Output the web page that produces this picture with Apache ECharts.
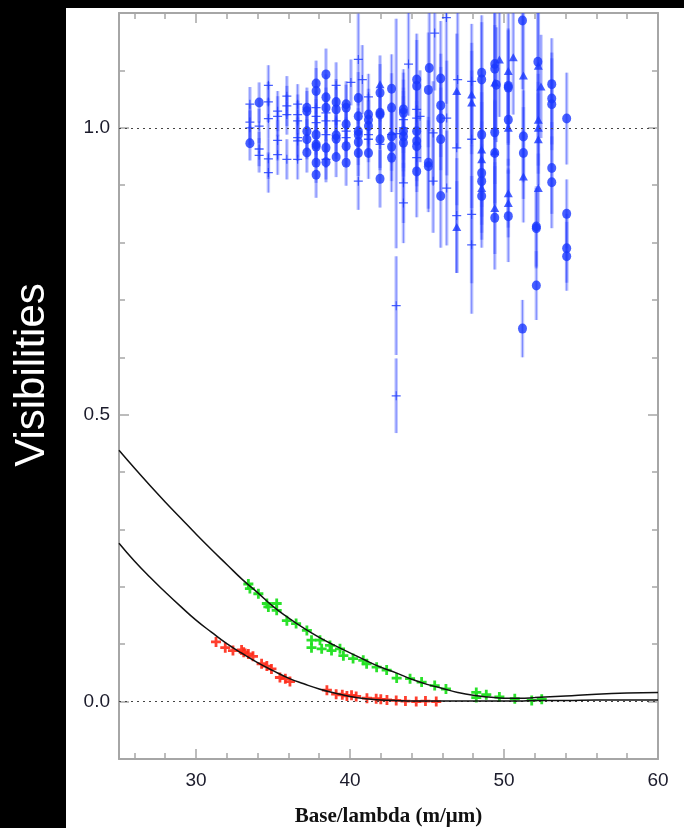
<!DOCTYPE html>
<html>
<head>
<meta charset="utf-8">
<script src="https://cdn.jsdelivr.net/npm/echarts@6/dist/echarts.min.js"></script>
<style>
  html, body { margin: 0; padding: 0; background: #000; }
  #chart { width: 684px; height: 828px; }
</style>
</head>
<body>
<div id="chart"></div>
<script>
// Axis ticks and labels
const xTickMinor = [26, 28, 30, 32, 34, 36, 38, 40, 42, 44, 46, 48, 50, 52, 54, 56, 58, 60];
const xTickMajor = [30, 40, 50, 60];
const yTickMajor = [0, 0.5, 1.0];

// Model visibility curves (sampled)
const curveX = [25, 26, 27, 28, 29, 30, 31, 32, 33, 34, 35, 36, 37, 38, 39, 40, 41, 42, 43, 44, 45, 46, 47, 48, 49, 50, 51, 52, 54, 56, 58, 60];
const upperV = [0.438, 0.407, 0.377, 0.348, 0.320, 0.292, 0.265, 0.239, 0.213, 0.190, 0.166, 0.146, 0.128, 0.112, 0.098, 0.085, 0.072, 0.060, 0.050, 0.039, 0.030, 0.023, 0.016, 0.011, 0.008, 0.006, 0.006, 0.007, 0.010, 0.013, 0.015, 0.016];
const lowerV = [0.276, 0.245, 0.217, 0.191, 0.166, 0.142, 0.121, 0.101, 0.084, 0.068, 0.054, 0.041, 0.031, 0.022, 0.015, 0.009, 0.005, 0.003, 0.002, 0.001, 0.001, 0.001, 0.001, 0.001, 0.001, 0.001, 0.001, 0.002, 0.002, 0.003, 0.003, 0.003];

// Red measurements
const redX = [31.3, 31.9, 32.4, 32.96, 33.1, 33.4, 33.7, 34.26, 34.6, 34.9, 35.45, 35.8, 36.1, 38.5, 39.1, 39.5, 39.8, 40.1, 40.4, 41.1, 41.7, 42.0, 42.4, 43.0, 43.6, 44.3, 44.9, 45.6];
const redV = [0.104, 0.094, 0.089, 0.090, 0.086, 0.083, 0.079, 0.066, 0.062, 0.057, 0.042, 0.040, 0.035, 0.020, 0.013, 0.012, 0.010, 0.011, 0.009, 0.006, 0.005, 0.004, 0.003, 0.002, 0.001, 0.000, 0.001, 0.000];

// Green measurements
const greenX = [33.4, 33.5, 34.05, 34.6, 34.7, 35.24, 35.24, 35.9, 36.5, 37.2, 37.5, 37.5, 38.05, 38.16, 38.7, 38.8, 39.35, 39.57, 40.2, 40.86, 41.08, 41.73, 42.38, 43.03, 43.9, 44.65, 45.5, 46.23, 48.2, 48.2, 48.85, 49.7, 50.7, 51.8, 52.45];
const greenV = [0.205, 0.197, 0.188, 0.171, 0.165, 0.171, 0.159, 0.141, 0.136, 0.124, 0.107, 0.094, 0.107, 0.092, 0.098, 0.089, 0.092, 0.080, 0.075, 0.072, 0.066, 0.060, 0.055, 0.041, 0.040, 0.034, 0.028, 0.022, 0.016, 0.007, 0.012, 0.008, 0.005, 0.002, 0.004];

// Blue measurements: plus markers
const plusX = [33.5, 33.5, 33.5, 34.1, 34.1, 34.1, 34.7, 34.7, 34.7, 34.7, 34.7, 35.3, 35.3, 35.3, 35.3, 35.9, 35.9, 35.9, 35.9, 36.6, 36.6, 36.6, 36.6, 36.6, 36.6, 37.8, 37.8, 37.8, 38.44, 38.44, 38.44, 38.44, 39.1, 39.1, 39.75, 39.75, 40.06, 40.54, 40.54, 40.8, 41.2, 41.2, 41.2, 41.95, 42.7, 43.0, 43.0, 43.0, 43.47, 43.47, 43.47, 43.47, 43.8, 44.33, 44.33, 44.33, 44.55, 45.4, 45.4, 45.5, 46.26, 46.28, 46.28, 46.93, 46.93, 46.99, 47.9, 47.9, 47.9, 47.9];
const plusV = [1.041, 1.010, 1.000, 1.003, 0.963, 0.952, 1.074, 1.045, 1.016, 0.946, 0.922, 1.029, 1.020, 0.978, 0.953, 1.055, 1.038, 1.023, 0.945, 1.041, 1.023, 1.012, 0.983, 0.977, 0.945, 1.035, 1.020, 1.009, 1.026, 1.012, 0.988, 0.945, 1.074, 1.012, 0.994, 0.983, 1.079, 0.907, 1.119, 1.084, 1.054, 0.988, 0.980, 0.971, 0.988, 0.990, 0.690, 0.533, 1.014, 1.000, 0.904, 0.869, 1.111, 1.032, 1.017, 0.948, 1.020, 0.991, 0.907, 1.165, 1.192, 1.017, 0.895, 0.965, 0.847, 1.084, 1.081, 0.980, 0.849, 0.796];
const plusE = [0.030, 0.030, 0.030, 0.030, 0.030, 0.030, 0.035, 0.035, 0.035, 0.035, 0.035, 0.035, 0.035, 0.035, 0.035, 0.035, 0.035, 0.035, 0.035, 0.035, 0.035, 0.035, 0.035, 0.035, 0.035, 0.030, 0.030, 0.030, 0.035, 0.035, 0.035, 0.035, 0.040, 0.040, 0.035, 0.035, 0.040, 0.050, 0.080, 0.060, 0.040, 0.040, 0.040, 0.045, 0.050, 0.200, 0.086, 0.065, 0.070, 0.070, 0.070, 0.070, 0.090, 0.060, 0.060, 0.060, 0.080, 0.090, 0.090, 0.100, 0.150, 0.100, 0.100, 0.100, 0.100, 0.120, 0.100, 0.120, 0.120, 0.120];

// Blue measurements: triangle markers
const triX = [41.95, 46.93, 46.93, 47.9, 47.9, 48.55, 48.55, 48.55, 49.4, 49.4, 49.4, 49.7, 50.28, 50.28, 50.28, 50.28, 50.6, 51.26, 51.26, 52.23, 52.23, 52.23, 52.23, 52.23, 52.4];
const triV = [1.076, 1.064, 0.827, 1.058, 1.044, 0.962, 0.945, 0.895, 1.079, 0.959, 0.860, 1.119, 1.099, 1.000, 0.886, 0.869, 1.123, 1.091, 0.915, 1.108, 1.014, 1.000, 0.980, 0.895, 1.072];
const triE = [0.050, 0.100, 0.080, 0.090, 0.090, 0.100, 0.100, 0.090, 0.100, 0.090, 0.080, 0.100, 0.100, 0.080, 0.060, 0.060, 0.100, 0.110, 0.080, 0.100, 0.080, 0.080, 0.080, 0.060, 0.090];

// Blue measurements: circle markers
const circX = [33.5, 34.1, 37.2, 37.2, 37.2, 37.2, 37.2, 37.8, 37.8, 37.8, 37.8, 37.8, 37.8, 37.8, 38.44, 38.44, 38.44, 38.44, 38.44, 39.1, 39.1, 39.1, 39.1, 39.1, 39.75, 39.75, 39.75, 39.75, 39.75, 40.54, 40.54, 40.54, 40.54, 40.54, 40.54, 41.2, 41.2, 41.2, 41.2, 41.95, 41.95, 41.95, 41.95, 41.95, 42.7, 42.7, 42.7, 42.7, 42.7, 43.47, 43.47, 43.47, 43.47, 43.47, 44.33, 44.33, 44.33, 44.33, 44.33, 44.33, 45.09, 45.09, 45.09, 45.15, 45.89, 45.89, 45.89, 45.89, 45.89, 48.55, 48.55, 48.55, 48.55, 48.55, 48.55, 49.4, 49.4, 49.4, 49.4, 49.4, 49.5, 50.28, 50.28, 50.28, 50.28, 51.2, 51.2, 51.26, 51.26, 52.1, 52.1, 52.1, 52.2, 53.1, 53.1, 53.1, 53.1, 53.1, 54.07, 54.07, 54.07, 54.07];
const circV = [0.973, 1.044, 1.035, 1.029, 0.994, 0.980, 0.957, 1.077, 1.064, 0.988, 0.971, 0.967, 0.939, 0.918, 1.093, 1.053, 1.035, 0.965, 0.940, 1.045, 1.032, 0.987, 0.981, 0.949, 1.041, 1.035, 1.006, 0.968, 0.939, 1.052, 1.020, 0.994, 0.988, 0.975, 0.956, 1.023, 1.014, 1.003, 0.956, 1.061, 1.026, 1.023, 0.980, 0.911, 1.068, 1.035, 0.985, 0.967, 0.948, 1.032, 1.026, 0.994, 0.985, 0.974, 1.084, 1.073, 0.994, 0.977, 0.968, 0.924, 1.066, 0.939, 0.933, 1.104, 1.086, 1.039, 1.016, 0.980, 0.881, 1.096, 1.084, 0.988, 0.921, 0.907, 0.881, 1.111, 1.103, 0.992, 0.956, 0.843, 1.075, 1.073, 1.070, 1.014, 0.846, 1.187, 0.650, 0.985, 0.956, 0.828, 0.825, 0.725, 1.115, 1.076, 1.051, 1.041, 0.930, 0.905, 1.016, 0.850, 0.790, 0.776];
const circE = [0.030, 0.035, 0.035, 0.035, 0.035, 0.035, 0.035, 0.040, 0.040, 0.035, 0.035, 0.035, 0.035, 0.040, 0.045, 0.040, 0.035, 0.035, 0.035, 0.040, 0.040, 0.035, 0.035, 0.035, 0.040, 0.040, 0.035, 0.035, 0.040, 0.045, 0.040, 0.040, 0.040, 0.040, 0.040, 0.045, 0.045, 0.045, 0.045, 0.050, 0.050, 0.050, 0.050, 0.050, 0.060, 0.060, 0.060, 0.060, 0.060, 0.070, 0.070, 0.070, 0.070, 0.070, 0.080, 0.080, 0.070, 0.070, 0.070, 0.080, 0.100, 0.080, 0.080, 0.110, 0.100, 0.090, 0.090, 0.090, 0.090, 0.100, 0.100, 0.090, 0.090, 0.090, 0.090, 0.110, 0.110, 0.090, 0.090, 0.090, 0.100, 0.100, 0.100, 0.080, 0.080, 0.120, 0.050, 0.080, 0.080, 0.070, 0.070, 0.060, 0.100, 0.080, 0.080, 0.080, 0.080, 0.080, 0.080, 0.060, 0.060, 0.060];

const BLUE = '#1a38ff';
const zip2 = (xs, ys) => xs.map((x, i) => [x, ys[i]]);
const zip3 = (xs, ys, es) => xs.map((x, i) => [x, ys[i], es[i]]);

const errorData = [].concat(zip3(plusX, plusV, plusE), zip3(triX, triV, triE), zip3(circX, circV, circE));

const PLUS = 'path://M-1.4,-5 L1.4,-5 L1.4,-1.4 L5,-1.4 L5,1.4 L1.4,1.4 L1.4,5 L-1.4,5 L-1.4,1.4 L-5,1.4 L-5,-1.4 L-1.4,-1.4 Z';
const THIN_PLUS = 'path://M-0.6,-5 L0.6,-5 L0.6,-0.7 L5,-0.7 L5,0.7 L0.6,0.7 L0.6,5 L-0.6,5 L-0.6,0.7 L-5,0.7 L-5,-0.7 L-0.6,-0.7 Z';

const axisGray = '#a6a6a6';
const labelFont = { fontSize: 19, color: '#1b1b2b', fontFamily: 'Liberation Sans, Arial, sans-serif' };

function xAxisPair(pos, withLabels) {
  return [
    {
      type: 'value', min: 25, max: 60, position: pos,
      axisLine: { show: true, onZero: false, lineStyle: { color: axisGray, width: 2 } },
      axisTick: { show: true, inside: true, length: 6, customValues: xTickMinor, lineStyle: { color: axisGray, width: 1.5 } },
      axisLabel: withLabels ? Object.assign({ show: true, customValues: xTickMajor, margin: 12 }, labelFont) : { show: false },
      splitLine: { show: false },
      name: withLabels ? 'Base/lambda (m/\u03bcm)' : '',
      nameLocation: 'middle', nameGap: 47,
      nameTextStyle: { fontFamily: 'Liberation Serif, Times New Roman, serif', fontWeight: 'bold', fontSize: 21, color: '#111' }
    },
    {
      type: 'value', min: 25, max: 60, position: pos,
      axisLine: { show: false, onZero: false },
      axisTick: { show: true, inside: true, length: 10, customValues: xTickMajor, lineStyle: { color: axisGray, width: 1.5 } },
      axisLabel: { show: false },
      splitLine: { show: false }
    }
  ];
}

function yAxisPair(pos, withLabels) {
  return [
    {
      type: 'value', min: -0.1, max: 1.2, interval: 0.1, position: pos,
      axisLine: { show: true, onZero: false, lineStyle: { color: axisGray, width: 2 } },
      axisTick: { show: true, inside: true, length: 6, lineStyle: { color: axisGray, width: 1.5 } },
      axisLabel: withLabels ? Object.assign({ show: true, customValues: yTickMajor, margin: 9, formatter: v => v.toFixed(1) }, labelFont) : { show: false },
      splitLine: { show: false }
    },
    {
      type: 'value', min: -0.1, max: 1.2, position: pos,
      axisLine: { show: false, onZero: false },
      axisTick: { show: true, inside: true, length: 10, customValues: yTickMajor, lineStyle: { color: axisGray, width: 1.5 } },
      axisLabel: { show: false },
      splitLine: { show: false }
    }
  ];
}

const chart = echarts.init(document.getElementById('chart'), null, { renderer: 'canvas' });

chart.setOption({
  backgroundColor: '#000',
  animation: false,
  graphic: [
    {
      type: 'rect', z: -100, silent: true,
      shape: { x: 66, y: 8, width: 618, height: 820 },
      style: { fill: '#fff' }
    },
    {
      type: 'text', silent: true,
      x: 32, y: 375, rotation: Math.PI / 2,
      style: {
        text: 'Visibilities', fill: '#fff', align: 'center', verticalAlign: 'middle',
        font: '42px "Liberation Sans", Arial, sans-serif'
      }
    }
  ],
  grid: { left: 119, right: 26, top: 13, bottom: 69, containLabel: false, outerBoundsMode: 'none' },
  xAxis: [].concat(xAxisPair('bottom', true), xAxisPair('top', false)),
  yAxis: [].concat(yAxisPair('left', true), yAxisPair('right', false)),
  series: [
    {
      name: 'errors', type: 'custom', clip: true, z: 3,
      data: errorData,
      renderItem: (params, api) => {
        const x = api.value(0), v = api.value(1), e = api.value(2);
        const p1 = api.coord([x, v - e]);
        const p2 = api.coord([x, v + e]);
        return {
          type: 'group',
          children: [
            { type: 'line', shape: { x1: p1[0], y1: p1[1], x2: p2[0], y2: p2[1] }, style: { stroke: 'rgba(60,80,255,0.32)', lineWidth: 3.5 } },
            { type: 'line', shape: { x1: p1[0], y1: p1[1], x2: p2[0], y2: p2[1] }, style: { stroke: 'rgba(40,60,255,0.45)', lineWidth: 1 } }
          ]
        };
      },
      markLine: {
        silent: true, symbol: ['none', 'none'], label: { show: false },
        lineStyle: { type: [2, 4], color: '#444', width: 1 },
        data: [{ yAxis: 1.0 }, { yAxis: 0.0 }]
      }
    },
    { name: 'plus', type: 'scatter', z: 4, clip: true, symbol: THIN_PLUS, symbolSize: 9, itemStyle: { color: BLUE }, data: zip2(plusX, plusV) },
    { name: 'triangle', type: 'scatter', z: 4, clip: true, symbol: 'triangle', symbolSize: [9, 8], itemStyle: { color: BLUE }, data: zip2(triX, triV) },
    { name: 'circle', type: 'scatter', z: 4, clip: true, symbol: 'circle', symbolSize: [9, 10], itemStyle: { color: BLUE }, data: zip2(circX, circV) },
    { name: 'red', type: 'scatter', z: 4, symbol: PLUS, symbolSize: 10, itemStyle: { color: '#ff2a17', opacity: 0.9 }, data: zip2(redX, redV) },
    { name: 'green', type: 'scatter', z: 4, symbol: PLUS, symbolSize: 10, itemStyle: { color: '#1fe01f', opacity: 0.95 }, data: zip2(greenX, greenV) },
    { name: 'upper model', type: 'line', z: 5, smooth: true, showSymbol: false, symbol: 'none', lineStyle: { color: '#111', width: 1.5 }, data: zip2(curveX, upperV) },
    { name: 'lower model', type: 'line', z: 5, smooth: true, showSymbol: false, symbol: 'none', lineStyle: { color: '#111', width: 1.5 }, data: zip2(curveX, lowerV) }
  ]
});
</script>
</body>
</html>
